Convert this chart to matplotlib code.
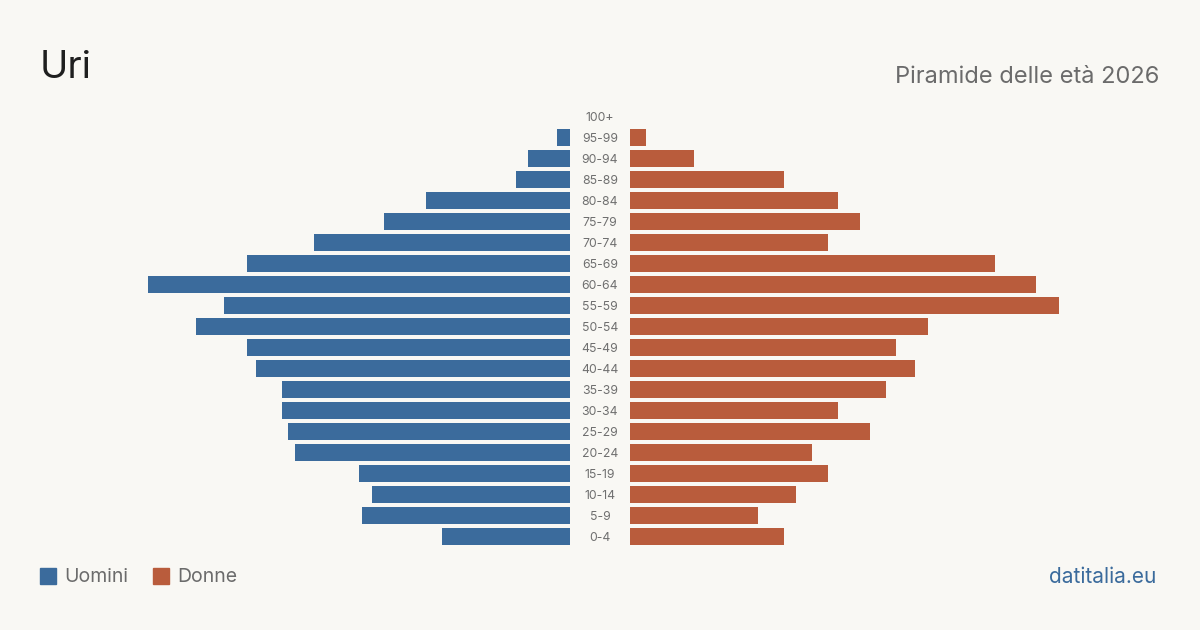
import matplotlib
matplotlib.use("Agg")
import matplotlib.pyplot as plt
from matplotlib.patches import Rectangle

plt.rcParams['font.family'] = ['Inter', 'DejaVu Sans']

ages = ["0-4", "5-9", "10-14", "15-19", "20-24", "25-29", "30-34", "35-39",
        "40-44", "45-49", "50-54", "55-59", "60-64", "65-69", "70-74",
        "75-79", "80-84", "85-89", "90-94", "95-99", "100+"]
uomini = [40, 65, 62, 66, 86, 88, 90, 90, 98, 101, 117, 108, 132, 101, 80,
          58, 45, 17, 13, 4, 0]
donne = [48, 40, 52, 62, 57, 75, 65, 80, 89, 83, 93, 134, 127, 114, 62,
         72, 65, 48, 20, 5, 0]

BG = "#f9f8f4"
BLUE = "#3b6b9c"
ORANGE = "#b95c3c"
XMAX = 135

def main():
    fig = plt.figure(figsize=(12, 6.3), dpi=100, facecolor=BG)
    W, H = 1200, 630
    bottom = (H - 547) / H
    height = 441 / H
    ax_l = fig.add_axes([138 / W, bottom, 432 / W, height])
    ax_r = fig.add_axes([630 / W, bottom, 432 / W, height])

    y = range(len(ages))
    ax_l.barh(y, uomini, height=0.81, color=BLUE)
    ax_r.barh(y, donne, height=0.81, color=ORANGE)
    ax_l.set_xlim(XMAX, 0)
    ax_r.set_xlim(0, XMAX)
    for ax in (ax_l, ax_r):
        ax.set_ylim(-0.5, len(ages) - 0.5)
        ax.axis("off")
        ax.set_facecolor("none")

    # age labels in the gap between the two halves
    for i, a in enumerate(ages):
        ax_r.annotate(a, xy=(0, i), xycoords="data", xytext=(-30, -1.5),
                      textcoords="offset pixels", ha="center", va="center",
                      fontsize=8.8, color="#6f6f6f")

    fig.text(40 / W, 1 - 68 / H, "Uri", fontsize=27.5, color="#1f1f1f",
             ha="left", va="center")
    fig.text(1159 / W, 1 - 77 / H, "Piramide delle età 2026", fontsize=17,
             color="#6b6b6b", ha="right", va="center")

    # legend
    fig.patches.append(Rectangle((40 / W, 1 - 584 / H), 16 / W, 16 / H,
                                 transform=fig.transFigure, color=BLUE))
    fig.text(64 / W, 1 - 577 / H, "Uomini", fontsize=14, color="#6b6b6b",
             ha="left", va="center")
    fig.patches.append(Rectangle((153 / W, 1 - 584 / H), 16 / W, 16 / H,
                                 transform=fig.transFigure, color=ORANGE))
    fig.text(177 / W, 1 - 577 / H, "Donne", fontsize=14, color="#6b6b6b",
             ha="left", va="center")

    fig.text(1156 / W, 1 - 577 / H, "datitalia.eu", fontsize=15, color=BLUE,
             ha="right", va="center")

    fig.savefig("out.png", dpi=100, facecolor=BG)

if __name__ == '__main__':
    main()
